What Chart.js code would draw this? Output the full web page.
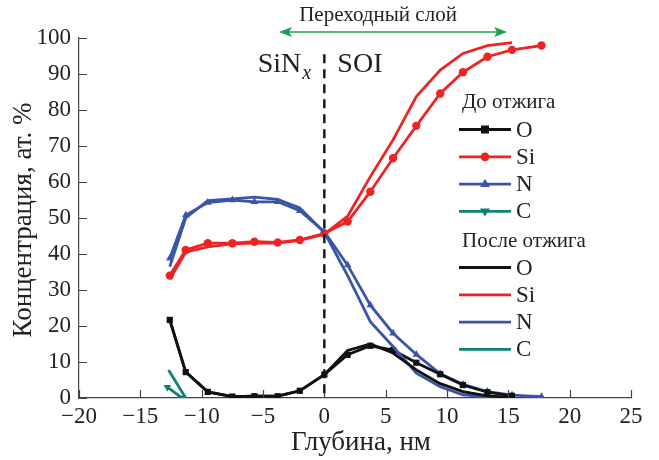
<!DOCTYPE html>
<html>
<head>
<meta charset="utf-8">
<script src="https://cdn.jsdelivr.net/npm/chart.js@4/dist/chart.umd.min.js"></script>
<style>
  html, body { margin: 0; padding: 0; background: #fff; }
  #wrap { width: 659px; height: 460px; }
</style>
</head>
<body>
<div id="wrap"><canvas id="chart" width="659" height="460"></canvas></div>
<script>
// глубина, нм
const depth = [-12.6, -11.3, -9.5, -7.5, -5.7, -3.8, -2.0, 0, 1.9, 3.75, 5.6, 7.5, 9.45, 11.3, 13.3, 15.3, 17.7];
const cDepthBefore = [-12.8, -11.6];
const cDepthAfter = [-12.7, -11.3];

// до отжига
const oBefore  = [21.7, 7.2, 1.7, 0.4, 0.5, 0.5, 2.0, 6.5, 12.0, 14.5, 13.3, 9.8, 6.6, 3.6, 1.6, 0.6, null];
const siBefore = [34.0, 41.1, 43.0, 43.0, 43.4, 43.2, 43.9, 45.7, 49.0, 57.3, 66.6, 75.6, 84.6, 90.5, 94.8, 96.7, 97.9];
const nBefore  = [38.8, 50.8, 54.3, 55.0, 54.5, 54.5, 52.0, 46.2, 36.9, 25.8, 18.0, 12.1, 6.7, 3.8, 1.8, 0.8, 0.4];
const cBefore  = [3.0, 0.0];

// после отжига
const oAfter  = [21.7, 7.2, 1.7, 0.4, 0.5, 0.5, 2.0, 6.5, 13.2, 15.0, 12.5, 7.8, 4.0, 1.8, 0.6, 0.2, null];
const siAfter = [33.0, 40.5, 42.0, 42.8, 43.0, 43.0, 43.8, 45.5, 50.5, 61.5, 71.7, 83.7, 91.1, 95.7, 97.9, 98.7, null];
const nAfter  = [36.5, 50.0, 54.8, 55.3, 55.8, 55.2, 52.8, 46.0, 34.0, 21.2, 14.3, 6.9, 3.1, 0.9, 0.3, 0.1, null];
const cAfter  = [7.8, 0.0];

const elements = ['O', 'Si', 'N', 'C'];
const colors = { O: '#111111', Si: '#ee2424', N: '#3a55a8', C: '#138077' };
const markers = { O: 'rect', Si: 'circle', N: 'triangle', C: 'triangle' };
const xTicks = [-20, -15, -10, -5, 0, 5, 10, 15, 20, 25];
const transition = [-3.7, 14.9]; // переходный слой

const FONT = '"Liberation Serif", "DejaVu Serif", serif';

function pts(xs, ys) {
    return xs.map((x, i) => ({ x: x, y: ys[i] }));
}

function series(label, xs, ys, el, withMarker) {
    return {
        label: label,
        data: pts(xs, ys),
        borderColor: colors[el],
        backgroundColor: colors[el],
        borderWidth: 2.8,
        pointStyle: markers[el],
        pointRotation: el === 'C' ? 180 : 0,
        pointRadius: withMarker ? (el === 'Si' ? 4.2 : 4.4) : 0,
        pointBorderWidth: 0,
        tension: 0,
        spanGaps: false
    };
}

const datasets = [
    series('O', depth, oAfter, 'O', false),
    series('Si', depth, siAfter, 'Si', false),
    series('N', depth, nAfter, 'N', false),
    series('C', cDepthAfter, cAfter, 'C', false),
    series('O', depth, oBefore, 'O', true),
    series('Si', depth, siBefore, 'Si', true),
    series('N', depth, nBefore, 'N', true),
    series('C', cDepthBefore, cBefore, 'C', true)
];

// подписи осей, пунктир, стрелка, легенда
const extras = {
    id: 'extras',
    afterDraw(chart) {
        const ctx = chart.ctx;
        const xs = chart.scales.x, ys = chart.scales.y;
        const area = chart.chartArea;
        ctx.save();

        // засечки внутрь
        ctx.strokeStyle = '#444';
        ctx.lineWidth = 1.2;
        ctx.beginPath();
        xTicks.forEach(v => {
            const px = Math.round(xs.getPixelForValue(v)) + 0.5;
            ctx.moveTo(px, area.bottom);
            ctx.lineTo(px, area.bottom - 8);
        });
        for (let v = 0; v <= 100; v += 10) {
            const py = Math.round(ys.getPixelForValue(v)) + 0.5;
            ctx.moveTo(area.left, py);
            ctx.lineTo(area.left + 8, py);
        }
        ctx.stroke();

        // подписи осей
        ctx.fillStyle = '#222';
        ctx.textAlign = 'center';
        ctx.textBaseline = 'middle';
        ctx.font = '27px ' + FONT;
        ctx.fillText('Глубина, нм', 361, 443);
        ctx.save();
        ctx.translate(24, 220);
        ctx.rotate(-Math.PI / 2);
        ctx.fillText('Концентрация, ат. %', 0, 0);
        ctx.restore();

        // граница SiNx / SOI
        const x0 = xs.getPixelForValue(0);
        ctx.strokeStyle = '#111';
        ctx.lineWidth = 2.4;
        ctx.setLineDash([9, 6]);
        ctx.beginPath();
        ctx.moveTo(x0, ys.getPixelForValue(95.5));
        ctx.lineTo(x0, area.bottom);
        ctx.stroke();
        ctx.setLineDash([]);

        ctx.fillStyle = '#222';
        ctx.textBaseline = 'alphabetic';
        ctx.font = '28px ' + FONT;
        ctx.textAlign = 'right';
        ctx.fillText('SiN', x0 - 23, 72);
        ctx.font = 'italic 20px ' + FONT;
        ctx.textAlign = 'left';
        ctx.fillText('x', x0 - 22, 79);
        ctx.font = '28px ' + FONT;
        ctx.fillText('SOI', x0 + 13, 72);

        // переходный слой
        const ax1 = xs.getPixelForValue(transition[0]);
        const ax2 = xs.getPixelForValue(transition[1]);
        const ay = 32;
        ctx.strokeStyle = '#1aa050';
        ctx.fillStyle = '#1aa050';
        ctx.lineWidth = 1.6;
        ctx.beginPath();
        ctx.moveTo(ax1 + 6, ay);
        ctx.lineTo(ax2 - 6, ay);
        ctx.stroke();
        ctx.beginPath();
        ctx.moveTo(ax1, ay); ctx.lineTo(ax1 + 13, ay - 5); ctx.lineTo(ax1 + 10, ay); ctx.lineTo(ax1 + 13, ay + 5); ctx.closePath();
        ctx.moveTo(ax2, ay); ctx.lineTo(ax2 - 13, ay - 5); ctx.lineTo(ax2 - 10, ay); ctx.lineTo(ax2 - 13, ay + 5); ctx.closePath();
        ctx.fill();
        ctx.fillStyle = '#222';
        ctx.font = '21px ' + FONT;
        ctx.textAlign = 'center';
        ctx.fillText('Переходный слой', (ax1 + ax2) / 2 - 15, 21);

        // легенда
        function block(title, titleY, rowY, withMarker) {
            ctx.font = '21px ' + FONT;
            ctx.textAlign = 'left';
            ctx.textBaseline = 'middle';
            ctx.fillStyle = '#222';
            ctx.fillText(title, 462, titleY);
            elements.forEach((el, i) => {
                const y = rowY + i * 27.3;
                ctx.strokeStyle = colors[el];
                ctx.lineWidth = 2.8;
                ctx.beginPath();
                ctx.moveTo(459, y);
                ctx.lineTo(511, y);
                ctx.stroke();
                if (withMarker) {
                    ctx.fillStyle = colors[el];
                    ctx.beginPath();
                    if (el === 'O') ctx.rect(481, y - 4, 8, 8);
                    else if (el === 'Si') ctx.arc(485, y, 4.4, 0, Math.PI * 2);
                    else if (el === 'N') { ctx.moveTo(485, y - 5); ctx.lineTo(490, y + 3); ctx.lineTo(480, y + 3); ctx.closePath(); }
                    else { ctx.moveTo(485, y + 5); ctx.lineTo(490, y - 3); ctx.lineTo(480, y - 3); ctx.closePath(); }
                    ctx.fill();
                }
                ctx.fillStyle = '#222';
                ctx.font = '23px ' + FONT;
                ctx.fillText(el, 516, y + 1);
            });
        }
        block('До отжига', 102, 129.5, true);
        block('После отжига', 241, 267.5, false);

        ctx.restore();
    }
};

new Chart(document.getElementById('chart'), {
    type: 'line',
    data: { datasets: datasets },
    options: {
        responsive: false,
        animation: false,
        layout: { padding: { top: 38, right: 28, left: 0, bottom: 0 } },
        plugins: { legend: { display: false }, tooltip: { enabled: false } },
        scales: {
            x: {
                type: 'linear',
                min: -20, max: 25,
                afterFit: s => { s.height = 62; },
                afterBuildTicks: s => { s.ticks = xTicks.map(v => ({ value: v })); },
                grid: { display: false, drawTicks: false },
                border: { display: true, color: '#444', width: 1.2 },
                ticks: {
                    color: '#222',
                    padding: 5,
                    font: { family: FONT, size: 23 },
                    callback: v => String(v).replace('-', '\u2212')
                }
            },
            y: {
                min: 0, max: 100,
                afterFit: s => { s.width = 79; },
                grid: { display: false, drawTicks: false },
                border: { display: true, color: '#444', width: 1.2 },
                ticks: {
                    stepSize: 10,
                    color: '#222',
                    padding: 8,
                    font: { family: FONT, size: 23 }
                }
            }
        }
    },
    plugins: [extras]
});
</script>
</body>
</html>
